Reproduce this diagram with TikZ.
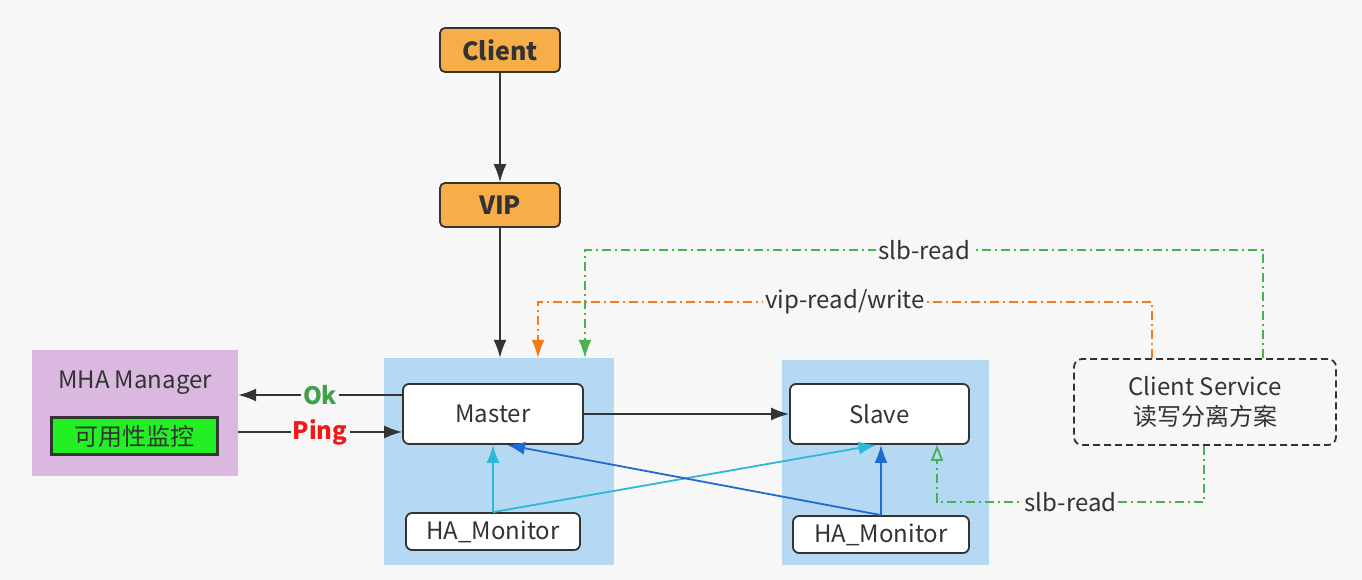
\documentclass[tikz,border=0pt]{standalone}
\usepackage{fontspec}
\setmainfont{Noto Sans CJK SC}
\usetikzlibrary{arrows.meta}
\definecolor{bgc}{HTML}{F7F7F7}
\definecolor{orng}{HTML}{F7AE48}
\definecolor{contblue}{HTML}{B5D8F3}
\definecolor{mhapurple}{HTML}{DAB8E0}
\definecolor{brightgreen}{HTML}{22F022}
\definecolor{okgreen}{HTML}{3FA24A}
\definecolor{pingred}{HTML}{F01818}
\definecolor{cyanl}{HTML}{2CB8D6}
\definecolor{bluel}{HTML}{1E6CD2}
\definecolor{dashgreen}{HTML}{4CAF50}
\definecolor{dashorange}{HTML}{F07D1A}
\definecolor{darkline}{HTML}{333333}
\begin{document}
\begin{tikzpicture}[x=1pt,y=-1pt,
  every node/.style={font=\fontsize{24}{28}\selectfont, text=darkline},
  topbox/.style={draw=darkline, line width=1.8pt, fill=orng, rounded corners=5pt, minimum width=120pt, minimum height=44pt, inner sep=0pt, font=\fontsize{25}{29}\selectfont\bfseries},
  cont/.style={fill=contblue, inner sep=0pt},
  srv/.style={draw=darkline, line width=1.8pt, fill=white, rounded corners=6pt, inner sep=0pt},
  mhabox/.style={fill=mhapurple, inner sep=0pt},
  greenbox/.style={draw=darkline, line width=3.5pt, fill=brightgreen, inner sep=0pt, minimum width=166pt, minimum height=37pt},
  csrv/.style={draw=darkline, line width=1.8pt, dash pattern=on 7pt off 4pt, rounded corners=8pt, inner sep=0pt, align=center, minimum width=262pt, minimum height=86pt, font=\fontsize{24}{30}\selectfont},
  arrtip/.style={-{Latex[length=18pt,width=13pt]}},
  blk/.style={draw=darkline, line width=1.8pt, arrtip},
  cyanarrow/.style={draw=cyanl, line width=1.8pt, arrtip},
  bluearrow/.style={draw=bluel, line width=1.8pt, arrtip},
  dashdot/.style={line width=1.5pt, dash pattern=on 9pt off 4pt on 2pt off 4pt},
  lbl/.style={fill=bgc, inner sep=2pt},
]
\fill[bgc] (0,0) rectangle (1362,580);
\useasboundingbox (0,0) rectangle (1362,580);

% top boxes
\node[topbox] (client) at (500,50) {Client};
\node[topbox] (vip) at (500,205) {VIP};

% containers
\node[cont, minimum width=230pt, minimum height=207pt] (mcont) at (499,461.5) {};
\node[cont, minimum width=207pt, minimum height=205pt] (scont) at (885.5,462.5) {};

% servers
\node[srv, minimum width=180pt, minimum height=60pt] (master) at (493,414) {Master};
\node[srv, minimum width=174pt, minimum height=37pt] (mmon) at (493,531.5) {HA\_Monitor};
\node[srv, minimum width=179pt, minimum height=60pt] (slave) at (879.5,414) {Slave};
\node[srv, minimum width=176pt, minimum height=37pt] (smon) at (881,534.5) {HA\_Monitor};

% MHA manager
\node[mhabox, minimum width=206pt, minimum height=126pt] (mha) at (135,413) {};
\node (mhat) at (135,383) {MHA Manager};
\node[greenbox] (avail) at (134.5,436) {可用性监控};

% client service
\node[csrv] (cs) at (1205,402) {Client Service\\读写分离方案};

% main arrows
\draw[blk] (client) -- (vip);
\draw[blk] (vip.south) -- (vip.south |- mcont.north);
\coordinate (okA) at ([yshift=19pt]master.west);
\coordinate (pingB) at ([yshift=-18pt]master.west);
\draw[blk] (okA) -- node[lbl, text=okgreen, font=\fontsize{24}{28}\selectfont\bfseries]{Ok} (okA -| mha.east);
\draw[blk] (pingB -| mha.east) -- node[lbl, text=pingred, font=\fontsize{24}{28}\selectfont\bfseries]{Ping} (pingB);
\draw[blk] (master) -- (slave);

% monitor arrows
\draw[cyanarrow] (mmon.north) -- (master.south);
\draw[cyanarrow] (mmon.north) -- ([xshift=-3pt]slave.south);
\draw[bluearrow] (smon.north) -- (smon.north |- slave.south);
\draw[bluearrow] (smon.north) -- ([xshift=14pt]master.south);

% dash-dot routes
\coordinate (gA) at (1263,250);
\coordinate (gB) at (585,250);
\draw[dashdot, draw=dashgreen, arrtip] ([xshift=58pt]cs.north) -- (gA) -- node[lbl]{slb-read} (gB) -- (gB |- mcont.north);
\coordinate (oA) at (1152,302);
\coordinate (oB) at (538,302);
\draw[dashdot, draw=dashorange, arrtip] ([xshift=-53pt]cs.north) -- (oA) -- node[lbl]{vip-read/write} (oB) -- (oB |- mcont.north);
\coordinate (bA) at (1204,502);
\coordinate (bB) at (937,502);
\draw[dashdot, draw=dashgreen, -{Triangle[open,length=16pt,width=12pt,line width=1.8pt]}] ([xshift=-1pt]cs.south) -- (bA) -- node[lbl]{slb-read} (bB) -- (bB |- slave.south);
\end{tikzpicture}
\end{document}
